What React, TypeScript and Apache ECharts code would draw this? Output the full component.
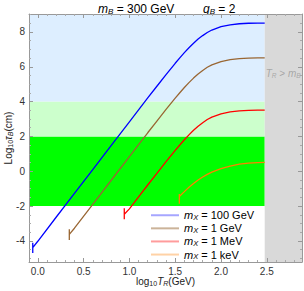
import React, { useEffect, useRef } from "react";
import * as echarts from "echarts";

const FONT = "'Liberation Sans', Arial, Helvetica, sans-serif";

const X_MIN = -0.096;
const X_MAX = 2.884;
const Y_MIN = -5.21;
const Y_MAX = 9.03;
const LOG_MB = 2.477;

const xTickStep = 0.5;
const yTickStep = 2;

const bandLow = [-2, 2, 4];
const bandHigh = [2, 4, Y_MAX];
const bandColors = ["#00ff00", "#ccffcc", "#ddeeff"];
const grayColor = "#d9d9d9";

const massLabels = ["100 GeV", "1 GeV", "1 MeV", "1 keV"];
const lineColors = ["#0000ff", "#996633", "#ff0000", "#ff8000"];
const legendColors = ["#a6a6ff", "#cbb399", "#ff9c9c", "#ffd2a6"];

const x100GeV = [-0.055, -0.055, -0.055, 0.0, 0.2, 0.4, 0.6, 0.8, 1.0, 1.1, 1.2, 1.3, 1.4, 1.5, 1.55, 1.6, 1.65, 1.7, 1.75, 1.8, 1.85, 1.9, 2.0, 2.1, 2.2, 2.3, 2.4, 2.477];
const y100GeV = [-4.1, -4.7, -4.39, -4.02, -2.64, -1.27, 0.1, 1.47, 2.84, 3.53, 4.21, 4.88, 5.55, 6.2, 6.51, 6.81, 7.09, 7.35, 7.59, 7.79, 7.97, 8.11, 8.3, 8.41, 8.47, 8.5, 8.51, 8.51];

const x1GeV = [0.344, 0.344, 0.344, 0.4, 0.6, 0.8, 1.0, 1.1, 1.2, 1.3, 1.4, 1.5, 1.55, 1.6, 1.65, 1.7, 1.75, 1.8, 1.85, 1.9, 2.0, 2.1, 2.2, 2.3, 2.4, 2.477];
const y1GeV = [-3.33, -3.94, -3.62, -3.27, -1.9, -0.53, 0.84, 1.53, 2.21, 2.88, 3.55, 4.2, 4.51, 4.81, 5.09, 5.35, 5.59, 5.79, 5.97, 6.11, 6.3, 6.41, 6.47, 6.5, 6.51, 6.51];

const x1MeV = [0.944, 0.944, 0.944, 1.0, 1.1, 1.2, 1.3, 1.4, 1.5, 1.55, 1.6, 1.65, 1.7, 1.75, 1.8, 1.85, 1.9, 2.0, 2.1, 2.2, 2.3, 2.4, 2.477];
const y1MeV = [-2.12, -2.75, -2.47, -2.16, -1.47, -0.79, -0.12, 0.55, 1.2, 1.51, 1.81, 2.09, 2.35, 2.59, 2.79, 2.97, 3.11, 3.3, 3.41, 3.47, 3.5, 3.51, 3.51];

const x1keV = [1.545, 1.545, 1.545, 1.6, 1.65, 1.7, 1.75, 1.8, 1.85, 1.9, 2.0, 2.1, 2.2, 2.3, 2.4, 2.477];
const y1keV = [-1.3, -1.87, -1.45, -1.17, -0.92, -0.7, -0.5, -0.33, -0.18, -0.05, 0.15, 0.3, 0.41, 0.47, 0.5, 0.51];

const curveXs = [x100GeV, x1GeV, x1MeV, x1keV];
const curveYs = [y100GeV, y1GeV, y1MeV, y1keV];

const richBase = (size: number, sub: number, color: string) => ({
  n: { fontSize: size, fontFamily: FONT, color, lineHeight: size + 1 },
  it: { fontSize: size, fontFamily: FONT, color, fontStyle: "italic", lineHeight: size + 1 },
  s: { fontSize: sub, fontFamily: FONT, color, lineHeight: sub, padding: [size + 1 - sub, 0, 0, 0] },
  is: { fontSize: sub, fontFamily: FONT, color, fontStyle: "italic", lineHeight: sub, padding: [size + 1 - sub, 0, 0, 0] },
});

const toNum = (v: any): number => (typeof v === "number" ? v : Number(v && typeof v === "object" ? v.value : v));

export default function App() {
  const ref = useRef<HTMLDivElement>(null);
  useEffect(() => {
    document.body.style.margin = "0";
    if (!ref.current) return;
    const chart = echarts.init(ref.current, null, { renderer: "svg" });

    const bandData: number[][] = bandLow.map((lo, i) => [X_MIN, LOG_MB, lo, bandHigh[i], i]);
    bandData.push([LOG_MB, X_MAX, Y_MIN, Y_MAX, 3]);
    const fills = [...bandColors, grayColor];

    const frame = { show: true, onZero: false, lineStyle: { color: "#999999", width: 1 } };
    const tick = { show: true, inside: true, length: 4, lineStyle: { color: "#999999", width: 1 } };
    const xMinor = { show: true, splitNumber: 5, length: 2, lineStyle: { color: "#aaaaaa", width: 1 } };
    const yMinor = { show: true, splitNumber: 4, length: 2, lineStyle: { color: "#aaaaaa", width: 1 } };

    const xLabel = (raw: any) => {
      const v = toNum(raw);
      return Math.abs(v / xTickStep - Math.round(v / xTickStep)) < 1e-6 ? v.toFixed(1) : "";
    };
    const yLabel = (raw: any) => {
      const v = toNum(raw);
      return Math.abs(v / yTickStep - Math.round(v / yTickStep)) < 1e-6 ? String(Math.round(v)) : "";
    };

    const axisRich = richBase(10, 7, "#222222");
    const legendRich = richBase(11, 7.5, "#000000");
    const titleRich = richBase(12, 8, "#000000");
    const grayRich = richBase(10, 6.5, "#999999");

    const xCommon = { type: "value", min: X_MIN, max: X_MAX, splitNumber: 6, z: 10, axisLine: frame, axisTick: tick, minorTick: xMinor, splitLine: { show: false } };
    const yCommon = { type: "value", min: Y_MIN, max: Y_MAX, splitNumber: 7, z: 10, axisLine: frame, axisTick: tick, minorTick: yMinor, splitLine: { show: false } };

    const option: any = {
      animation: false,
      grid: { left: 29, top: 14, width: 273, height: 248, containLabel: false, outerBoundsMode: "none" },
      xAxis: [
        {
          ...xCommon, position: "bottom",
          axisLabel: { show: true, formatter: xLabel, fontSize: 10, color: "#333333", fontFamily: FONT, margin: 4 },
          name: "{n|log}{s|10}{it|T}{is|R}{n|(GeV)}", nameLocation: "middle", nameGap: 14, nameMoveOverlap: false,
          nameTextStyle: { rich: axisRich },
        },
        { ...xCommon, position: "top", axisLabel: { show: false } },
      ],
      yAxis: [
        {
          ...yCommon, position: "left",
          axisLabel: { show: true, formatter: yLabel, fontSize: 10, color: "#333333", fontFamily: FONT, margin: 4 },
          name: "{n|Log}{s|10}{it|τ}{is|B}{n|(cm)}", nameLocation: "middle", nameGap: 15, nameMoveOverlap: false,
          nameTextStyle: { rich: axisRich },
        },
        { ...yCommon, position: "right", axisLabel: { show: false } },
      ],
      legend: {
        orient: "vertical", left: 151, top: 209, padding: 0,
        itemWidth: 28, itemHeight: 2, itemGap: 0.6, icon: "rect",
        data: massLabels.map((n, i) => ({ name: n, itemStyle: { color: legendColors[i] } })),
        formatter: (n: string) => `{it|m}{is|X}{n| = ${n}}`,
        textStyle: { color: "#000000", rich: legendRich },
      },
      graphic: [
        { type: "text", x: 98, y: 2, style: { text: "{it|m}{is|B}{n| = 300 GeV}", rich: titleRich } },
        { type: "text", x: 203, y: 2, style: { text: "{it|g}{is|B}{n| = 2}", rich: titleRich } },
      ],
      series: [
        {
          type: "custom", z: 1, clip: true,
          data: bandData,
          encode: { x: [0, 1], y: [2, 3] },
          renderItem: (_p: any, api: any) => {
            const a = api.coord([api.value(0), api.value(3)]);
            const b = api.coord([api.value(1), api.value(2)]);
            return {
              type: "rect",
              shape: { x: a[0], y: a[1], width: b[0] - a[0], height: b[1] - a[1] },
              style: { fill: fills[api.value(4)] },
            };
          },
          silent: true,
        },
        {
          type: "scatter", z: 2, symbolSize: 0, data: [[LOG_MB, 5.6]], silent: true,
          label: {
            show: true, position: "right", distance: 1, offset: [0, 0],
            formatter: "{it|T}{is|R}{n| > }{it|m}{is|B}", rich: grayRich,
          },
        },
        ...massLabels.map((n, i) => ({
          type: "line", name: n, z: 3, showSymbol: false, symbol: "none", smooth: false,
          data: curveXs[i].map((x, k) => [x, curveYs[i][k]]),
          lineStyle: { color: lineColors[i], width: 1.3 },
          itemStyle: { color: lineColors[i] },
        })),
      ],
    };
    chart.setOption(option);
    return () => chart.dispose();
  }, []);
  return <div ref={ref} style={{ width: 304, height: 291 }} />;
}
